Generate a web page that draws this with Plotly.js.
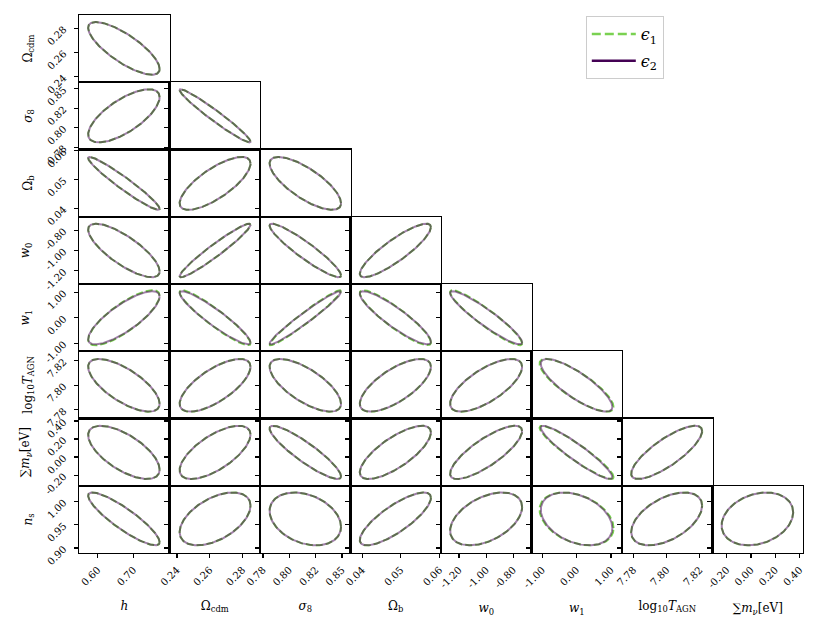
<!DOCTYPE html>
<html>
<head>
<meta charset="utf-8">
<script src="https://cdn.plot.ly/plotly-3.0.1.min.js"></script>
<style>html,body{margin:0;padding:0;background:#fff;}#chart{width:827px;height:632px;}</style>
</head>
<body>
<div id="chart"></div>
<script>
// ---- data ----
const paramLabels = ['<i>h</i>', 'Ω<sub>cdm</sub>', '<i>σ</i><sub>8</sub>', 'Ω<sub>b</sub>', '<i>w</i><sub>0</sub>',
  '<i>w</i><sub>1</sub>', 'log<sub>10</sub><i>T</i><sub>AGN</sub>', '∑<i>m</i><sub><i>ν</i></sub>[eV]', '<i>n</i><sub>s</sub>'];
const seriesNames = ['<i>ϵ</i><sub>1</sub>', '<i>ϵ</i><sub>2</sub>'];
// fiducial centres of each parameter
const centers = [0.673, 0.2633, 0.815, 0.0486, -1.0, 0.0, 7.800, 0.052, 0.9625];
// half-extent of the contour for each parameter, per series
const halfWidthsE1 = [0.0995, 0.0217, 0.0317, 0.0092, 0.265, 1.075, 0.0215, 0.295, 0.0570];
const halfWidthsE2 = [0.0995, 0.0217, 0.0317, 0.0092, 0.265, 1.040, 0.0214, 0.295, 0.0569];
// correlation coefficients, row r = parameter r+1 (y), column c = parameter c (x)
const corrRows = [
  [-0.78],
  [0.70, -0.97],
  [-0.96, 0.75, -0.75],
  [-0.78, 0.96, -0.93, 0.87],
  [0.80, -0.93, 0.97, -0.90, -0.93],
  [-0.70, 0.70, -0.70, 0.70, 0.70, -0.82],
  [-0.65, 0.67, -0.90, 0.75, 0.80, -0.93, 0.80],
  [-0.88, 0.50, -0.30, 0.80, 0.45, -0.35, 0.50, 0.25]
];
// axis ranges
const ranges = [
  [0.548, 0.800], [0.2354, 0.2908], [0.7748, 0.8551], [0.0370, 0.0604], [-1.332, -0.666],
  [-1.31, 1.32], [7.7730, 7.8277], [-0.318, 0.428], [0.889, 1.034]
];
// tick values and labels
const tickVals = [
  [0.60, 0.70], [0.24, 0.26, 0.28], [0.7775, 0.8008, 0.8242, 0.8475], [0.04, 0.05, 0.06],
  [-1.2, -1.0, -0.8], [-1, 0, 1], [7.78, 7.80, 7.82], [-0.2, 0.0, 0.2, 0.4], [0.90, 0.95, 1.00]
];
const tickTexts = [
  ['0.60', '0.70'], ['0.24', '0.26', '0.28'], ['0.78', '0.80', '0.82', '0.85'], ['0.04', '0.05', '0.06'],
  ['-1.20', '-1.00', '-0.80'], ['-1.00', '0.00', '1.00'], ['7.78', '7.80', '7.82'],
  ['-0.20', '0.00', '0.20', '0.40'], ['0.90', '0.95', '1.00']
];
const colorE1 = '#7ad151';
const colorE2 = '#440154';

// ---- build figure ----
const N = 8;
const traces = [];
const layout = {
  width: 827, height: 632,
  margin: {l: 79, r: 24, t: 15, b: 79},
  paper_bgcolor: '#fff', plot_bgcolor: '#fff',
  font: {family: 'DejaVu Serif, serif', color: '#000000', size: 10},
  showlegend: true,
  legend: {x: 0.70, y: 0.998, xanchor: 'left', yanchor: 'top', bgcolor: '#fff',
    bordercolor: '#cccccc', borderwidth: 1, font: {size: 16, family: 'DejaVu Serif, serif', color: '#000000'},
    tracegroupgap: 3, itemwidth: 44}
};

function ellipse(cx, cy, ax, ay, rho) {
  const xs = [], ys = [];
  const s = Math.sqrt(1 - rho * rho);
  for (let k = 0; k <= 240; k++) {
    const t = 2 * Math.PI * k / 240;
    const u = Math.cos(t), v = rho * Math.cos(t) + s * Math.sin(t);
    xs.push(cx + ax * u); ys.push(cy + ay * v);
  }
  return [xs, ys];
}

// legend entries (full colour)
traces.push({x: [null], y: [null], mode: 'lines', name: seriesNames[0], legendgroup: 'e1',
  line: {color: colorE1, width: 2.6, dash: '9px,4px'}, xaxis: 'x', yaxis: 'y'});
traces.push({x: [null], y: [null], mode: 'lines', name: seriesNames[1], legendgroup: 'e2',
  line: {color: colorE2, width: 2.6}, xaxis: 'x', yaxis: 'y'});

let k = 0;
for (let r = 0; r < N; r++) {
  for (let c = 0; c <= r; c++) {
    k++;
    const xi = c, yi = r + 1;
    const xa = k === 1 ? 'x' : 'x' + k, ya = k === 1 ? 'y' : 'y' + k;
    const rho = corrRows[r][c];
    const e1 = ellipse(centers[xi], centers[yi], halfWidthsE1[xi], halfWidthsE1[yi], rho);
    const e2 = ellipse(centers[xi], centers[yi], halfWidthsE2[xi], halfWidthsE2[yi], rho);
    traces.push({x: e1[0], y: e1[1], mode: 'lines', showlegend: false, hoverinfo: 'skip',
      line: {color: colorE1, width: 2, dash: '7px,3px'}, xaxis: xa, yaxis: ya});
    traces.push({x: e2[0], y: e2[1], mode: 'lines', showlegend: false, hoverinfo: 'skip',
      line: {color: 'rgba(68,1,84,0.5)', width: 2}, xaxis: xa, yaxis: ya});
    const bottom = r === N - 1, left = c === 0;
    layout['xaxis' + (k === 1 ? '' : k)] = {
      domain: [c / N, (c + 1) / N], anchor: ya, range: ranges[xi],
      showline: true, mirror: true, linecolor: '#000', linewidth: 1.2,
      showgrid: false, zeroline: false,
      ticks: bottom ? 'outside' : '', ticklen: 4, tickwidth: 1.2, tickcolor: '#000',
      tickvals: tickVals[xi], ticktext: tickTexts[xi], ticklabelstandoff: 2,
      showticklabels: bottom, tickangle: -45, tickfont: {size: 10, color: '#000000'},
      title: bottom ? {text: paramLabels[xi], font: {size: 12, color: '#000000'}, standoff: 14} : {text: ''}
    };
    layout['yaxis' + (k === 1 ? '' : k)] = {
      domain: [1 - (r + 1) / N, 1 - r / N], anchor: xa, range: ranges[yi],
      showline: true, mirror: true, linecolor: '#000', linewidth: 1.2,
      showgrid: false, zeroline: false,
      ticks: 'outside', ticklen: 4, tickwidth: 1.2, tickcolor: '#000',
      tickvals: tickVals[yi], ticktext: tickTexts[yi], ticklabelstandoff: 8,
      showticklabels: left, tickangle: -45, tickfont: {size: 10, color: '#000000'},
      title: left ? {text: paramLabels[yi], font: {size: 12, color: '#000000'}, standoff: 10} : {text: ''}
    };
  }
}

Plotly.newPlot('chart', traces, layout, {displayModeBar: false, staticPlot: true});
</script>
</body>
</html>
